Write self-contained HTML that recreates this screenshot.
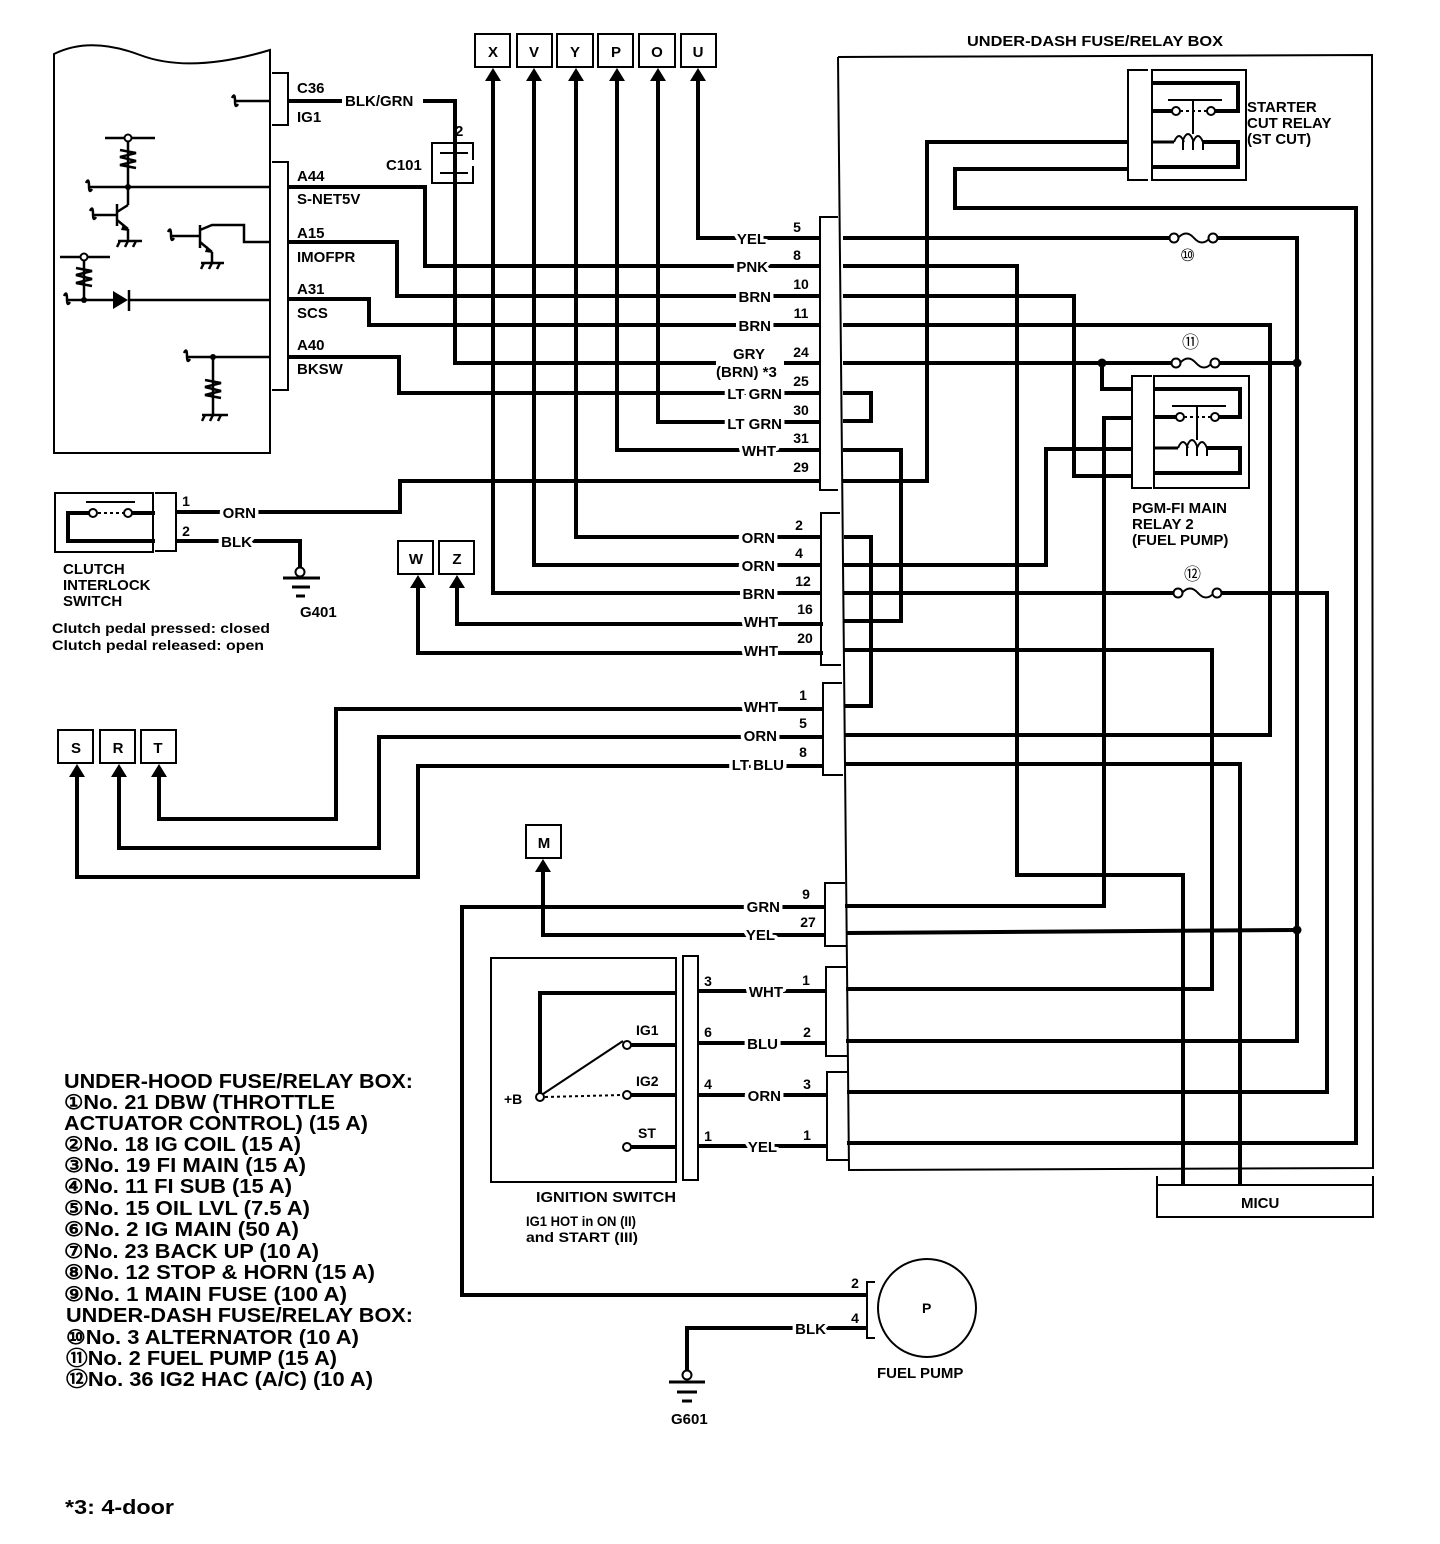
<!DOCTYPE html>
<html><head><meta charset="utf-8"><style>
html,body{margin:0;padding:0;background:#fff;}
svg{display:block;}
text{font-family:"Liberation Sans",Arial,sans-serif;font-weight:bold;fill:#000;}
.h{stroke:#fff;stroke-width:7px;paint-order:stroke;stroke-linejoin:round;}
</style></head><body>
<svg width="1440" height="1544" viewBox="0 0 1440 1544" xmlns="http://www.w3.org/2000/svg">
<rect width="1440" height="1544" fill="#fff"/>

<!-- ================= ECM ================= -->
<g fill="none" stroke="#000" stroke-width="2">
<path d="M54,54 Q90,36 140,55 T270,50 L270,453 L54,453 Z"/>
<polyline points="272,73 288,73 288,125 272,125"/>
<polyline points="272,162 288,162 288,390 272,390"/>
</g>
<g fill="none" stroke="#000" stroke-width="2.5">
<!-- IG1 -->
<path d="M232,98 q3,-6 3,3 q0,8 3,3"/><line x1="236" y1="101" x2="270" y2="101"/>
<!-- S-NET row -->
<path d="M86,183 q3,-6 3,3 q0,8 3,3"/><line x1="90" y1="187" x2="270" y2="187"/>
<line x1="105" y1="138" x2="155" y2="138"/>
<line x1="128" y1="142" x2="128" y2="205"/>
<polyline points="120,150 136,153 120,157 136,161 120,165 136,168"/>
<line x1="128" y1="205" x2="117" y2="212"/>
<line x1="117" y1="204" x2="117" y2="226"/>
<path d="M90,211 q3,-6 3,3 q0,8 3,3"/><line x1="94" y1="215" x2="117" y2="215"/>
<line x1="117" y1="220" x2="128" y2="229"/><line x1="128" y1="229" x2="128" y2="240"/>
<line x1="118" y1="241" x2="142" y2="241"/>
<path d="M120,241 l-3,6 M128,241 l-3,6 M136,241 l-3,6"/>
<!-- transistor 2 -->
<path d="M168,232 q3,-6 3,3 q0,8 3,3"/><line x1="172" y1="236" x2="200" y2="236"/>
<line x1="200" y1="225" x2="200" y2="248"/>
<polyline points="200,230 212,225 244,225 244,242 270,242"/>
<line x1="200" y1="242" x2="212" y2="252"/><line x1="212" y1="252" x2="212" y2="263"/>
<line x1="201" y1="263" x2="224" y2="263"/>
<path d="M204,263 l-3,6 M212,263 l-3,6 M220,263 l-3,6"/>
<!-- diode row -->
<line x1="60" y1="257" x2="110" y2="257"/>
<line x1="84" y1="261" x2="84" y2="300"/>
<polyline points="76,268 92,271 76,275 92,279 76,283 92,286"/>
<path d="M64,296 q3,-6 3,3 q0,8 3,3"/><line x1="68" y1="300" x2="113" y2="300"/>
<line x1="129" y1="290" x2="129" y2="311"/><line x1="129" y1="300" x2="270" y2="300"/>
<!-- BKSW row -->
<path d="M184,353 q3,-6 3,3 q0,8 3,3"/><line x1="188" y1="357" x2="270" y2="357"/>
<line x1="213" y1="357" x2="213" y2="415"/>
<polyline points="205,380 221,383 205,387 221,391 205,395 221,398"/>
<line x1="202" y1="415" x2="228" y2="415"/>
<path d="M205,415 l-3,6 M213,415 l-3,6 M221,415 l-3,6"/>
</g>
<g fill="#000">
<circle cx="128" cy="138" r="3.5" fill="#fff" stroke="#000" stroke-width="2"/>
<circle cx="84" cy="257" r="3.5" fill="#fff" stroke="#000" stroke-width="2"/>
<circle cx="128" cy="187" r="3"/><circle cx="84" cy="300" r="3"/><circle cx="213" cy="357" r="3"/>
<polygon points="113,291 113,309 128,300"/>
<polygon points="123,224 129,231 121,230"/><polygon points="207,246 213,253 205,252"/>
</g>
<g font-size="15">
<text x="297" y="93">C36</text><text x="297" y="122">IG1</text>
<text x="297" y="181">A44</text><text x="297" y="204">S-NET5V</text>
<text x="297" y="238">A15</text><text x="297" y="262">IMOFPR</text>
<text x="297" y="294">A31</text><text x="297" y="318">SCS</text>
<text x="297" y="350">A40</text><text x="297" y="374">BKSW</text>
<text x="345" y="106">BLK/GRN</text>
<text x="455" y="136">2</text>
<text x="386" y="170">C101</text>
</g>
<!-- C101 -->
<g fill="none" stroke="#000" stroke-width="2">
<polyline points="440,143 473,143 473,160"/><polyline points="473,166 473,183 432,183 432,143 440,143"/>
<line x1="440" y1="153" x2="468" y2="153"/><line x1="440" y1="173" x2="468" y2="173"/>
</g>

<!-- ================= Wires (thick) ================= -->
<g fill="none" stroke="#000" stroke-width="4" stroke-linejoin="miter">
<!-- ECM wires -->
<polyline points="288,101 342,101"/>
<polyline points="423,101 455,101 455,363 820,363"/>
<polyline points="288,187 425,187 425,266 820,266"/>
<polyline points="288,242 397,242 397,296 820,296"/>
<polyline points="288,299 369,299 369,325 820,325"/>
<polyline points="288,357 399,357 399,393 820,393"/>
<!-- top connectors -->
<polyline points="493,78 493,593 822,593"/>
<polyline points="534,78 534,565 822,565"/>
<polyline points="576,78 576,537 822,537"/>
<polyline points="617,78 617,450 820,450"/>
<polyline points="658,78 658,422 820,422"/>
<polyline points="698,78 698,238 820,238"/>
<!-- clutch -->
<polyline points="176,512 400,512 400,481 820,481"/>
<polyline points="176,541 300,541 300,568"/>
<!-- W Z -->
<polyline points="418,584 418,653 823,653"/>
<polyline points="457,584 457,624 823,624"/>
<!-- S R T -->
<polyline points="159,773 159,819 336,819 336,709 824,709"/>
<polyline points="119,773 119,848 379,848 379,737 824,737"/>
<polyline points="77,773 77,877 418,877 418,766 824,766"/>
<!-- M -->
<polyline points="543,868 543,935 826,935"/>
<!-- GRN to fuel pump -->
<polyline points="826,907 462,907 462,1295 867,1295"/>
<!-- fuel pump BLK -->
<polyline points="867,1328 687,1328 687,1371"/>
<!-- ignition switch rows -->
<line x1="698" y1="991" x2="826" y2="991"/>
<line x1="698" y1="1043" x2="826" y2="1043"/>
<line x1="698" y1="1095" x2="827" y2="1095"/>
<line x1="698" y1="1146" x2="827" y2="1146"/>
<polyline points="676,993 540,993 540,1093"/>
<line x1="631" y1="1045" x2="676" y2="1045"/>
<line x1="631" y1="1095" x2="676" y2="1095"/>
<line x1="631" y1="1147" x2="676" y2="1147"/>

<!-- inside fuse/relay box -->
<polyline points="843,238 1170,238"/><polyline points="1217,238 1297,238 1297,1041 846,1041"/>
<polyline points="843,266 1017,266 1017,875 1183,875 1183,1185"/>
<polyline points="843,296 1074,296 1074,476 1132,476"/>
<polyline points="843,325 1270,325 1270,735 845,735"/>
<polyline points="843,363 1172,363"/><polyline points="1219,363 1297,363"/>
<polyline points="1102,363 1102,389 1132,389"/>
<polyline points="843,393 871,393 871,421 843,421"/>
<polyline points="843,450 901,450 901,621 844,621"/>
<polyline points="843,481 927,481 927,142 1128,142"/>
<polyline points="1128,169 955,169 955,208 1356,208 1356,1143 847,1143"/>
<polyline points="844,537 871,537 871,706 845,706"/>
<polyline points="844,565 1046,565 1046,449 1132,449"/>
<polyline points="844,593 1175,593"/><polyline points="1219,593 1327,593 1327,1092 847,1092"/>
<polyline points="844,650 1212,650 1212,989 846,989"/>
<polyline points="845,764 1240,764 1240,1185"/>
<polyline points="845,906 1104,906 1104,418 1132,418"/>
<polyline points="846,933 1297,930"/>
</g>
<circle cx="1297" cy="930" r="4.5"/>
<circle cx="1297" cy="363" r="4.5"/>
<circle cx="1102" cy="363" r="4.5"/>

<!-- fuses -->
<g fill="#fff" stroke="#000" stroke-width="2">
<path d="M1178,238 Q1186,229 1194,238 T1210,238" fill="none"/>
<circle cx="1174" cy="238" r="4.5"/><circle cx="1213" cy="238" r="4.5"/>
<path d="M1180,363 Q1188,354 1196,363 T1212,363" fill="none"/>
<circle cx="1176" cy="363" r="4.5"/><circle cx="1215" cy="363" r="4.5"/>
<path d="M1182,593 Q1190,584 1198,593 T1214,593" fill="none"/>
<circle cx="1178" cy="593" r="4.5"/><circle cx="1217" cy="593" r="4.5"/>
</g>
<g font-size="17" font-weight="normal">
<text x="1180" y="261" style="font-weight:normal">⑩</text>
<text x="1182" y="348" style="font-weight:normal">⑪</text>
<text x="1184" y="580" style="font-weight:normal">⑫</text>
</g>

<!-- box outline -->
<g fill="none" stroke="#000" stroke-width="2">
<polyline points="838,57 1372,55 1373,1168 849,1170 838,57"/>
<!-- connector brackets -->
<polyline points="838,217 820,217 820,490 838,490"/>
<polyline points="840,513 821,513 821,665 841,665"/>
<polyline points="842,683 823,683 823,775 843,775"/>
<polyline points="845,883 825,883 825,946 846,946"/>
<polyline points="846,967 826,967 826,1056 847,1056"/>
<polyline points="847,1072 827,1072 827,1160 848,1160"/>
<!-- MICU -->
<polyline points="1157,1176 1157,1217 1373,1217 1373,1176"/>
<line x1="1157" y1="1185" x2="1373" y2="1185"/>
<!-- ignition switch -->
<rect x="491" y="958" width="185" height="224"/>
<rect x="683" y="956" width="15" height="224"/>
<line x1="543" y1="1094" x2="623" y2="1041"/>
<line x1="545" y1="1097" x2="622" y2="1095" stroke-dasharray="3,3"/>
<!-- clutch switch -->
<rect x="55" y="493" width="98" height="59"/>
<polyline points="155,493 176,493 176,551 155,551"/>
<line x1="86" y1="502" x2="135" y2="502"/>
<line x1="98" y1="513" x2="124" y2="513" stroke-dasharray="3,3"/>
<!-- fuel pump -->
<circle cx="927" cy="1308" r="49"/>
<polyline points="875,1282 867,1282 867,1338 875,1338"/>
</g>
<g fill="none" stroke="#000" stroke-width="4">
<polyline points="89,513 68,513 68,541 155,541"/>
<line x1="132" y1="513" x2="155" y2="513"/>
</g>
<g fill="#fff" stroke="#000" stroke-width="2">
<circle cx="93" cy="513" r="4"/><circle cx="128" cy="513" r="4"/>
<circle cx="540" cy="1097" r="4"/><circle cx="627" cy="1045" r="4"/><circle cx="627" cy="1095" r="4"/><circle cx="627" cy="1147" r="4"/>
<circle cx="300" cy="572" r="4.5"/><circle cx="687" cy="1375" r="4.5"/>
</g>
<!-- grounds -->
<g stroke="#000" stroke-width="3">
<line x1="283" y1="578" x2="320" y2="578"/><line x1="292" y1="587" x2="310" y2="587"/><line x1="296" y1="596" x2="305" y2="596"/>
<line x1="669" y1="1382" x2="705" y2="1382"/><line x1="677" y1="1392" x2="697" y2="1392"/><line x1="682" y1="1401" x2="692" y2="1401"/>
</g>

<!-- relays -->
<g id="rel" fill="none" stroke="#000">
<polyline points="1148,70 1128,70 1128,180 1148,180" stroke-width="2"/>
<rect x="1152" y="70" width="94" height="110" stroke-width="2"/>
<polyline points="1152,83 1238,83 1238,111 1215,111" stroke-width="4"/>
<line x1="1152" y1="111" x2="1172" y2="111" stroke-width="4"/>
<line x1="1168" y1="100" x2="1222" y2="100" stroke-width="2"/>
<line x1="1180" y1="111" x2="1207" y2="111" stroke-width="2" stroke-dasharray="3,3"/>
<line x1="1193" y1="100" x2="1193" y2="134" stroke-width="2"/>
<line x1="1152" y1="142" x2="1174" y2="142" stroke-width="3"/>
<path d="M1174,142 q5,-12 10,0 M1183,150 v-10 q5,-12 10,0 v10 M1193,142 q5,-12 10,0 M1203,142 v8" stroke-width="2"/>
<polyline points="1203,142 1238,142 1238,167 1152,167" stroke-width="4"/>
<circle cx="1176" cy="111" r="4" fill="#fff" stroke-width="2"/>
<circle cx="1211" cy="111" r="4" fill="#fff" stroke-width="2"/>
</g>
<g transform="translate(4,306)" fill="none" stroke="#000">
<polyline points="1148,70 1128,70 1128,182 1148,182" stroke-width="2"/>
<rect x="1150" y="70" width="95" height="112" stroke-width="2"/>
<polyline points="1150,83 1236,83 1236,111 1215,111" stroke-width="4"/>
<line x1="1150" y1="111" x2="1172" y2="111" stroke-width="4"/>
<line x1="1168" y1="100" x2="1222" y2="100" stroke-width="2"/>
<line x1="1180" y1="111" x2="1207" y2="111" stroke-width="2" stroke-dasharray="3,3"/>
<line x1="1193" y1="100" x2="1193" y2="134" stroke-width="2"/>
<line x1="1150" y1="142" x2="1174" y2="142" stroke-width="3"/>
<path d="M1174,142 q5,-12 10,0 M1183,150 v-10 q5,-12 10,0 v10 M1193,142 q5,-12 10,0 M1203,142 v8" stroke-width="2"/>
<polyline points="1203,142 1236,142 1236,167 1150,167" stroke-width="4"/>
<circle cx="1176" cy="111" r="4" fill="#fff" stroke-width="2"/>
<circle cx="1211" cy="111" r="4" fill="#fff" stroke-width="2"/>
</g>

<!-- connector boxes with arrows -->
<g fill="#fff" stroke="#000" stroke-width="2">
<rect x="475" y="34" width="35" height="33"/><rect x="517" y="34" width="35" height="33"/>
<rect x="557" y="34" width="36" height="33"/><rect x="598" y="34" width="35" height="33"/>
<rect x="639" y="34" width="36" height="33"/><rect x="681" y="34" width="35" height="33"/>
<rect x="398" y="541" width="35" height="33"/><rect x="439" y="541" width="35" height="33"/>
<rect x="58" y="730" width="35" height="33"/><rect x="100" y="730" width="35" height="33"/><rect x="141" y="730" width="35" height="33"/>
<rect x="526" y="825" width="35" height="33"/>
</g>
<g fill="#000">
<polygon points="493,68 485,81 501,81"/><polygon points="534,68 526,81 542,81"/><polygon points="576,68 568,81 584,81"/>
<polygon points="617,68 609,81 625,81"/><polygon points="658,68 650,81 666,81"/><polygon points="698,68 690,81 706,81"/>
<polygon points="418,575 410,588 426,588"/><polygon points="457,575 449,588 465,588"/>
<polygon points="77,764 69,777 85,777"/><polygon points="119,764 111,777 127,777"/><polygon points="159,764 151,777 167,777"/>
<polygon points="543,859 535,872 551,872"/>
</g>
<g font-size="15" text-anchor="middle">
<text x="493" y="57">X</text><text x="534" y="57">V</text><text x="575" y="57">Y</text>
<text x="616" y="57">P</text><text x="657" y="57">O</text><text x="698" y="57">U</text>
<text x="416" y="564">W</text><text x="457" y="564">Z</text>
<text x="76" y="753">S</text><text x="118" y="753">R</text><text x="158" y="753">T</text>
<text x="544" y="848">M</text>
</g>

<!-- wire labels (with white halo) -->
<g font-size="15" text-anchor="end" class="h">
<text x="766" y="244" class="h">YEL</text>
<text x="768" y="272" class="h">PNK</text>
<text x="771" y="302" class="h">BRN</text>
<text x="771" y="331" class="h">BRN</text>
<text x="782" y="429" class="h">LT GRN</text>
<text x="782" y="399" class="h">LT GRN</text>
<text x="776" y="456" class="h">WHT</text>
<text x="775" y="543" class="h">ORN</text>
<text x="775" y="571" class="h">ORN</text>
<text x="775" y="599" class="h">BRN</text>
<text x="778" y="627" class="h">WHT</text>
<text x="778" y="656" class="h">WHT</text>
<text x="778" y="712" class="h">WHT</text>
<text x="777" y="741" class="h">ORN</text>
<text x="784" y="770" class="h">LT BLU</text>
<text x="780" y="912" class="h">GRN</text>
<text x="775" y="940" class="h">YEL</text>
<text x="783" y="997" class="h">WHT</text>
<text x="778" y="1049" class="h">BLU</text>
<text x="781" y="1101" class="h">ORN</text>
<text x="777" y="1152" class="h">YEL</text>
<text x="826" y="1334" class="h">BLK</text>
<text x="256" y="518" class="h">ORN</text>
<text x="252" y="547" class="h">BLK</text>
</g>
<rect x="716" y="345" width="68" height="33" fill="#fff"/>
<g font-size="15">
<text x="733" y="359">GRY</text>
<text x="716" y="377">(BRN) *3</text>
</g>
<!-- pin numbers -->
<g font-size="14" text-anchor="middle">
<text x="797" y="232">5</text><text x="797" y="260">8</text><text x="801" y="289">10</text><text x="801" y="318">11</text>
<text x="801" y="357">24</text><text x="801" y="386">25</text><text x="801" y="415">30</text><text x="801" y="443">31</text><text x="801" y="472">29</text>
<text x="799" y="530">2</text><text x="799" y="558">4</text><text x="803" y="586">12</text><text x="805" y="614">16</text><text x="805" y="643">20</text>
<text x="803" y="700">1</text><text x="803" y="728">5</text><text x="803" y="757">8</text>
<text x="806" y="899">9</text><text x="808" y="927">27</text>
<text x="806" y="985">1</text><text x="807" y="1037">2</text><text x="807" y="1089">3</text><text x="807" y="1140">1</text>
<text x="708" y="986">3</text><text x="708" y="1037">6</text><text x="708" y="1089">4</text><text x="708" y="1141">1</text>
<text x="186" y="506">1</text><text x="186" y="536">2</text>
<text x="855" y="1288">2</text><text x="855" y="1323">4</text>
</g>
<g font-size="14">
<text x="636" y="1035">IG1</text><text x="636" y="1086">IG2</text><text x="638" y="1138">ST</text>
<text x="504" y="1104">+B</text>
<text x="922" y="1313">P</text>
</g>

<!-- titles / notes -->
<g font-size="15">
<text x="967" y="46" textLength="256" lengthAdjust="spacingAndGlyphs">UNDER-DASH FUSE/RELAY BOX</text>
<text x="1247" y="112">STARTER</text><text x="1247" y="128">CUT RELAY</text><text x="1247" y="144">(ST CUT)</text>
<text x="1132" y="513">PGM-FI MAIN</text><text x="1132" y="529">RELAY 2</text><text x="1132" y="545">(FUEL PUMP)</text>
<text x="1241" y="1208">MICU</text>
<text x="877" y="1378">FUEL PUMP</text>
<text x="671" y="1424">G601</text>
<text x="300" y="617">G401</text>
<text x="63" y="574">CLUTCH</text><text x="63" y="590">INTERLOCK</text><text x="63" y="606">SWITCH</text>
<text x="536" y="1202" textLength="140" lengthAdjust="spacingAndGlyphs">IGNITION SWITCH</text>
</g>
<g font-size="14">
<text x="52" y="633" textLength="218" lengthAdjust="spacingAndGlyphs">Clutch pedal pressed: closed</text>
<text x="52" y="650" textLength="212" lengthAdjust="spacingAndGlyphs">Clutch pedal released: open</text>
<text x="526" y="1226" textLength="110" lengthAdjust="spacingAndGlyphs">IG1 HOT in ON (II)</text>
<text x="526" y="1242" textLength="112" lengthAdjust="spacingAndGlyphs">and START (III)</text>
</g>

<!-- legend -->
<g font-size="20">
<text x="64" y="1088" textLength="349" lengthAdjust="spacingAndGlyphs">UNDER-HOOD FUSE/RELAY BOX:</text>
<text x="64" y="1109" textLength="271" lengthAdjust="spacingAndGlyphs">①No. 21 DBW (THROTTLE</text>
<text x="64" y="1130" textLength="304" lengthAdjust="spacingAndGlyphs">ACTUATOR CONTROL) (15 A)</text>
<text x="64" y="1151" textLength="237" lengthAdjust="spacingAndGlyphs">②No. 18 IG COIL (15 A)</text>
<text x="64" y="1172" textLength="242" lengthAdjust="spacingAndGlyphs">③No. 19 FI MAIN (15 A)</text>
<text x="64" y="1193" textLength="228" lengthAdjust="spacingAndGlyphs">④No. 11 FI SUB (15 A)</text>
<text x="64" y="1215" textLength="246" lengthAdjust="spacingAndGlyphs">⑤No. 15 OIL LVL (7.5 A)</text>
<text x="64" y="1236" textLength="235" lengthAdjust="spacingAndGlyphs">⑥No. 2 IG MAIN (50 A)</text>
<text x="64" y="1258" textLength="255" lengthAdjust="spacingAndGlyphs">⑦No. 23 BACK UP (10 A)</text>
<text x="64" y="1279" textLength="311" lengthAdjust="spacingAndGlyphs">⑧No. 12 STOP &amp; HORN (15 A)</text>
<text x="64" y="1301" textLength="283" lengthAdjust="spacingAndGlyphs">⑨No. 1 MAIN FUSE (100 A)</text>
<text x="66" y="1322" textLength="347" lengthAdjust="spacingAndGlyphs">UNDER-DASH FUSE/RELAY BOX:</text>
<text x="66" y="1344" textLength="293" lengthAdjust="spacingAndGlyphs">⑩No. 3 ALTERNATOR (10 A)</text>
<text x="66" y="1365" textLength="271" lengthAdjust="spacingAndGlyphs">⑪No. 2 FUEL PUMP (15 A)</text>
<text x="66" y="1386" textLength="307" lengthAdjust="spacingAndGlyphs">⑫No. 36 IG2 HAC (A/C) (10 A)</text>
<text x="65" y="1514" textLength="109" lengthAdjust="spacingAndGlyphs">*3: 4-door</text>
</g>
</svg>
</body></html>
